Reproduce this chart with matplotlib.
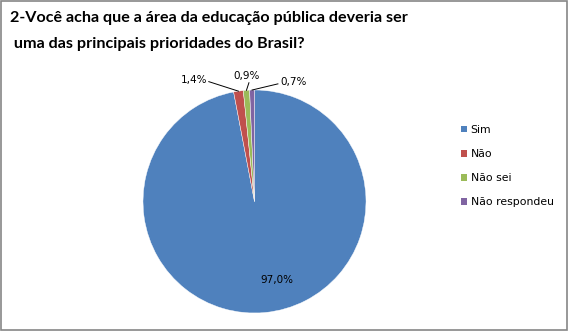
import matplotlib
matplotlib.use("Agg")
import matplotlib.pyplot as plt
from matplotlib.patches import Rectangle, Patch
import numpy as np

categorias = ["Sim", "Não", "Não sei", "Não respondeu"]
valores = [97.0, 1.4, 0.9, 0.7]
rotulos = ["97,0%", "1,4%", "0,9%", "0,7%"]
cores = ["#4F81BD", "#C0504D", "#9BBB59", "#8064A2"]
titulo = ["2-Você acha que a área da educação pública deveria ser",
          " uma das principais prioridades do Brasil?"]

W, H = 571, 336
fig = plt.figure(figsize=(W / 100, H / 100), dpi=100)

# moldura cinza do gráfico
fig.patches.append(Rectangle((1 / W, 1 - 330 / H), 566 / W, 329 / H,
                             transform=fig.transFigure, fill=False,
                             edgecolor="#868686", linewidth=1.2))

for k, linha in enumerate(titulo):
    fig.text(10 / W, 1 - (18 + 26 * k) / H, linha, fontsize=11.6,
             fontweight="bold", family="Lato", va="center", ha="left")

cx, cy, r = 254.5, 201.5, 111.5
ax = fig.add_axes([(cx - r) / W, (H - cy - r) / H, 2 * r / W, 2 * r / H])
wedges, _ = ax.pie(valores, colors=cores, startangle=90, counterclock=False,
                   radius=1, wedgeprops=dict(edgecolor="white", linewidth=0.3))
ax.set_xlim(-1, 1)
ax.set_ylim(-1, 1)
ax.set_aspect("equal")
ax.axis("off")

pos_txt = [(0.20, -0.70), (-0.54, 1.09), (-0.07, 1.125), (0.35, 1.075)]
for i, w in enumerate(wedges):
    ang = np.deg2rad((w.theta1 + w.theta2) / 2)
    tx, ty = pos_txt[i]
    ax.text(tx, ty, rotulos[i], ha="center", va="center", fontsize=7.5)
    if i == 0:
        continue
    borda = (np.cos(ang), np.sin(ang))
    if i == 1:
        lado = (tx + 0.13, ty - 0.015)
    elif i == 3:
        lado = (tx - 0.14, ty - 0.02)
    else:
        lado = (tx + 0.02, ty - 0.06)
    ax.plot([lado[0], borda[0]], [lado[1], borda[1]], color="black",
            linewidth=0.7, clip_on=False)

handles = [Patch(facecolor=c, edgecolor="none") for c in cores]
fig.legend(handles, categorias, loc="center left",
           bbox_to_anchor=(451 / W, 1 - 166 / H), frameon=False,
           fontsize=7.8, handlelength=0.6, handleheight=0.6,
           handletextpad=0.3, labelspacing=1.3)

fig.savefig("out.png", dpi=100)
